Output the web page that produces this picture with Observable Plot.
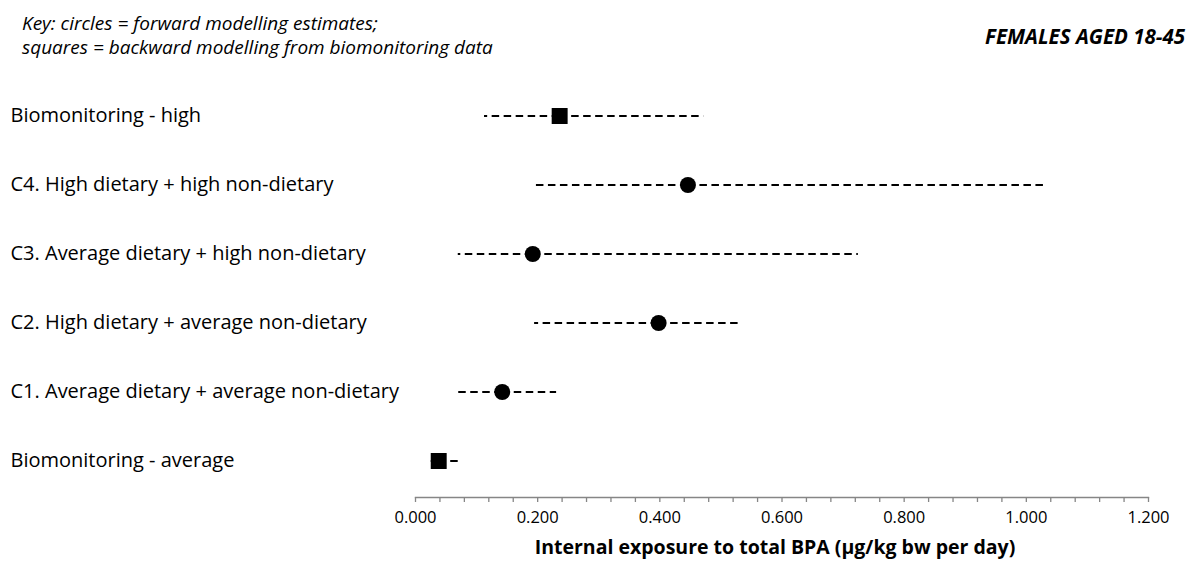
<!DOCTYPE html>
<html>
<head>
<meta charset="utf-8">
<script src="https://cdn.jsdelivr.net/npm/d3@7"></script>
<script src="https://cdn.jsdelivr.net/npm/@observablehq/plot@0.6"></script>
<style>
  html, body { margin: 0; padding: 0; background: #fff; }
  #wrap { position: relative; width: 1189px; height: 570px; font-family: "Open Sans", Lato, sans-serif; }
  #key { position: absolute; left: 22px; top: 11px; font-style: italic; font-size: 19px; line-height: 24px; color: #000; }
  #group { position: absolute; right: 4px; top: 22px; font-style: italic; font-weight: bold; font-size: 20.5px; color: #000; }
  svg { position: absolute; left: 0; top: 0; }
</style>
</head>
<body>
<div id="wrap">
  <div id="key">Key: circles = forward modelling estimates;<br>squares = backward modelling from biomonitoring data</div>
  <div id="group">FEMALES AGED 18-45</div>
</div>
<script>
const categories = [
  "Biomonitoring - high",
  "C4. High dietary + high non-dietary",
  "C3. Average dietary + high non-dietary",
  "C2. High dietary + average non-dietary",
  "C1. Average dietary + average non-dietary",
  "Biomonitoring - average"
];
const central = [0.236, 0.446, 0.192, 0.398, 0.142, 0.038];
const low     = [0.113, 0.196, 0.070, 0.195, 0.068, 0.020];
const high    = [0.472, 1.030, 0.725, 0.529, 0.231, 0.077];
const method  = ["backward", "forward", "forward", "forward", "forward", "backward"];
const majorTicks = [0, 0.2, 0.4, 0.6, 0.8, 1.0, 1.2];
const minorTicks = d3.range(0, 31).map(i => i * 0.04);
const xTitle = "Internal exposure to total BPA (µg/kg bw per day)";

const rows = categories.map((c, i) => ({cat: c, v: central[i], lo: low[i], hi: high[i], m: method[i]}));

const chart = Plot.plot({
  width: 1189,
  height: 570,
  marginLeft: 415,
  marginRight: 41,
  marginTop: 78,
  marginBottom: 73,
  style: {fontFamily: "'Open Sans', Lato, sans-serif", background: "transparent", color: "#000"},
  x: {domain: [0, 1.2]},
  y: {type: "band", domain: categories, padding: 0},
  marks: [
    Plot.frame({anchor: "bottom", stroke: "#868686", strokeWidth: 1.3}),
    Plot.axisX({ticks: minorTicks, tickSize: 5, tickFormat: () => "", stroke: "#868686", strokeWidth: 1.3}),
    Plot.axisX({ticks: majorTicks, tickSize: 0, tickPadding: 14, tickFormat: d3.format(".3f"), fontSize: 16.5, fill: "#000", label: null}),
    Plot.axisY({tickSize: 0, tickPadding: 0, textAnchor: "start", dx: -405, fontSize: 20, fill: "#000", label: null}),
    Plot.ruleY(rows, {y: "cat", x1: "v", x2: "lo", stroke: "#000", strokeWidth: 1.8, strokeDasharray: "7.5,4.5"}),
    Plot.ruleY(rows, {y: "cat", x1: "v", x2: "hi", stroke: "#000", strokeWidth: 1.8, strokeDasharray: "7.5,4.5"}),
    Plot.dot(rows.filter(d => d.m === "forward"), {x: "v", y: "cat", r: 8, fill: "#000", stroke: "none", symbol: "circle"}),
    Plot.dot(rows.filter(d => d.m === "backward"), {x: "v", y: "cat", r: 9, fill: "#000", stroke: "none", symbol: "square"}),
    Plot.text([xTitle], {frameAnchor: "bottom", dx: -7, dy: 56, fontSize: 19.5, fontWeight: "bold", fill: "#000"})
  ]
});
document.getElementById("wrap").appendChild(chart);
</script>
</body>
</html>
